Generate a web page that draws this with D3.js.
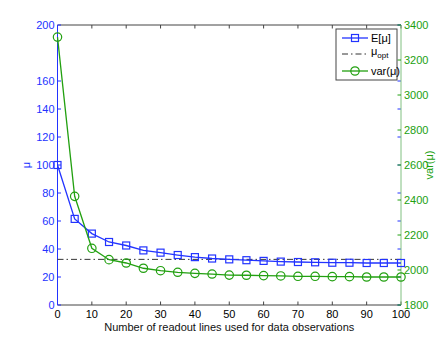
<!DOCTYPE html>
<html>
<head>
<meta charset="utf-8">
<script src="https://cdn.jsdelivr.net/npm/d3@7"></script>
<style>
  body { margin: 0; background: #fff; }
  svg { font-family: "Liberation Sans", Arial, sans-serif; }
</style>
</head>
<body>
<svg width="443" height="343"></svg>
<script>
const lines = [0,5,10,15,20,25,30,35,40,45,50,55,60,65,70,75,80,85,90,95,100];
const meanMu = [100,61.5,51,45,42.5,39,37.4,35.7,34.2,33.2,32.6,32,31.5,31,30.7,30.5,30.2,30.2,30,30,30];
const varMu = [3331,2421,2124,2059,2040,2010,1996,1987,1981,1977,1971,1970,1968,1966,1964,1964,1962,1962,1960,1960,1960];
const muOpt = 32.6;
const xTicks = [0,10,20,30,40,50,60,70,80,90,100];
const leftTicks = [0,20,40,60,80,100,120,140,160,200];
const rightTicks = [1800,2000,2200,2400,2600,2800,3000,3200,3400];

const blue = '#2233ff', green = '#22a010', grey = '#444';
const svg = d3.select('svg');
const L = 57.5, R = 401, T = 25, B = 305;

const x = d3.scaleLinear().domain([0,100]).range([L,R]);
const yL = d3.scaleLinear().domain([0,200]).range([B,T]);
const yR = d3.scaleLinear().domain([1800,3400]).range([B,T]);

// box
svg.append('line').attr('x1',L).attr('x2',R).attr('y1',T).attr('y2',T).attr('stroke',grey);
svg.append('line').attr('x1',L).attr('x2',R).attr('y1',B).attr('y2',B).attr('stroke',grey);

// x ticks bottom and top
const g = svg.append('g');
xTicks.forEach(t => {
  g.append('line').attr('x1',x(t)).attr('x2',x(t)).attr('y1',B).attr('y2',B-3.5).attr('stroke',grey);
  g.append('line').attr('x1',x(t)).attr('x2',x(t)).attr('y1',T).attr('y2',T+3.5).attr('stroke',grey);
  g.append('text').attr('x',x(t)).attr('y',B+13).attr('text-anchor','middle')
    .attr('font-size',11).attr('fill','#000').text(t);
});

// left axis
svg.append('line').attr('x1',L).attr('x2',L).attr('y1',T).attr('y2',B).attr('stroke',blue);
leftTicks.forEach(t => {
  svg.append('line').attr('x1',L).attr('x2',L+3.5).attr('y1',yL(t)).attr('y2',yL(t)).attr('stroke',blue);
  svg.append('line').attr('x1',R).attr('x2',R-3.5).attr('y1',yL(t)).attr('y2',yL(t)).attr('stroke',blue);
  svg.append('text').attr('x',L-3).attr('y',yL(t)+4).attr('text-anchor','end')
    .attr('font-size',11).attr('fill',blue).text(t);
});

// right axis
svg.append('line').attr('x1',R).attr('x2',R).attr('y1',T).attr('y2',B).attr('stroke','#80c080');
rightTicks.forEach(t => {
  svg.append('line').attr('x1',R).attr('x2',R-3.5).attr('y1',yR(t)).attr('y2',yR(t)).attr('stroke',green);
  svg.append('text').attr('x',R+3).attr('y',yR(t)+4).attr('text-anchor','start')
    .attr('font-size',11).attr('fill',green).text(t);
});

// axis labels
svg.append('text').attr('x',(L+R)/2).attr('y',B+26).attr('text-anchor','middle')
  .attr('font-size',11).attr('fill','#111').text('Number of readout lines used for data observations');
svg.append('text').attr('transform',`translate(30,${yL(100)}) rotate(-90)`).attr('text-anchor','middle')
  .attr('font-size',11).attr('fill',blue).text('μ');
svg.append('text').attr('transform',`translate(433,${(T+B)/2}) rotate(-90)`).attr('text-anchor','middle')
  .attr('font-size',11).attr('fill',green).text('var(μ)');

// mu_opt
svg.append('line').attr('x1',x(0)).attr('x2',x(100)).attr('y1',yL(muOpt)).attr('y2',yL(muOpt))
  .attr('stroke','#333').attr('stroke-width',1).attr('stroke-dasharray','6,3,1.5,3');

// E[mu]
svg.append('path').datum(meanMu.map((v,i)=>[lines[i],v]))
  .attr('d', d3.line().x(d=>x(d[0])).y(d=>yL(d[1])))
  .attr('fill','none').attr('stroke',blue).attr('stroke-width',1.3);
svg.selectAll('rect.m').data(meanMu.map((v,i)=>[lines[i],v])).enter().append('rect')
  .attr('x',d=>x(d[0])-3.5).attr('y',d=>yL(d[1])-3.5).attr('width',7).attr('height',7)
  .attr('fill','none').attr('stroke',blue).attr('stroke-width',1.2);

// var(mu)
svg.append('path').datum(varMu.map((v,i)=>[lines[i],v]))
  .attr('d', d3.line().x(d=>x(d[0])).y(d=>yR(d[1])))
  .attr('fill','none').attr('stroke',green).attr('stroke-width',1.3);
svg.selectAll('circle.v').data(varMu.map((v,i)=>[lines[i],v])).enter().append('circle')
  .attr('cx',d=>x(d[0])).attr('cy',d=>yR(d[1])).attr('r',4.2)
  .attr('fill','none').attr('stroke',green).attr('stroke-width',1.2);

// legend
const lg = svg.append('g');
lg.append('rect').attr('x',336).attr('y',29).attr('width',61).attr('height',51)
  .attr('fill','#fff').attr('stroke','#444').attr('stroke-width',1);
lg.append('line').attr('x1',342).attr('x2',368).attr('y1',38).attr('y2',38).attr('stroke',blue).attr('stroke-width',1.3);
lg.append('rect').attr('x',351.5).attr('y',34.5).attr('width',7).attr('height',7).attr('fill','none').attr('stroke',blue).attr('stroke-width',1.2);
lg.append('text').attr('x',371).attr('y',42).attr('font-size',11).text('E[μ]');
lg.append('line').attr('x1',342).attr('x2',368).attr('y1',54).attr('y2',54).attr('stroke','#333').attr('stroke-dasharray','6,3,1.5,3');
const t2 = lg.append('text').attr('x',371).attr('y',55).attr('font-size',11).text('μ');
t2.append('tspan').attr('font-size',8).attr('dy',3).text('opt');
lg.append('line').attr('x1',342).attr('x2',368).attr('y1',71).attr('y2',71).attr('stroke',green).attr('stroke-width',1.3);
lg.append('circle').attr('cx',355).attr('cy',71).attr('r',4.2).attr('fill','none').attr('stroke',green).attr('stroke-width',1.2);
lg.append('text').attr('x',371).attr('y',75).attr('font-size',11).text('var(μ)');
</script>
</body>
</html>
